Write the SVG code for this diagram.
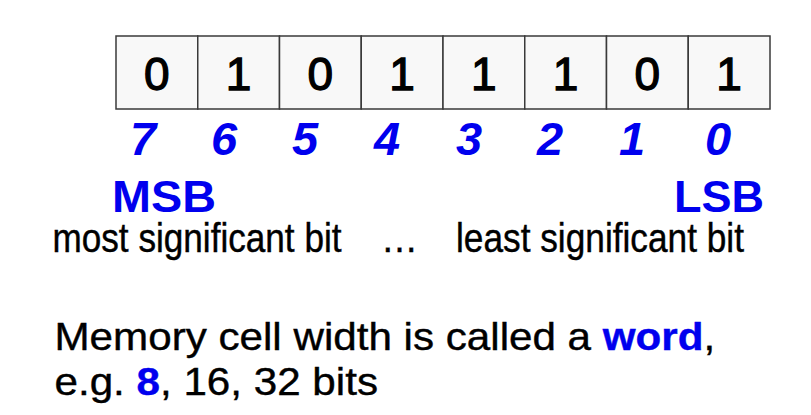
<svg xmlns="http://www.w3.org/2000/svg" width="811" height="415" viewBox="0 0 811 415">
<style>
  .cell { fill: #f8f8f8; stroke: #3a3a3a; stroke-width: 1.5; }
  .bit { font-family: "Liberation Sans", Arial, sans-serif; font-size: 46px; fill: #000; stroke: #000; stroke-width: 1.3px; text-anchor: middle; }
  .idx { font-family: "Liberation Sans", Arial, sans-serif; font-size: 47px; font-weight: bold; font-style: italic; fill: #0000ee; text-anchor: middle; }
  .big { font-family: "Liberation Sans", Arial, sans-serif; font-size: 45px; font-weight: bold; fill: #0000ee; }
  .small { font-family: "Liberation Sans", Arial, sans-serif; font-size: 37px; fill: #000; stroke: #000; stroke-width: 0.4px; }
  .cap { font-family: "Liberation Sans", Arial, sans-serif; font-size: 38px; fill: #000; stroke: #000; stroke-width: 0.4px; }
  .hl { font-weight: bold; fill: #0000ee; stroke: #0000ee; }
</style>
<rect width="811" height="415" fill="#ffffff"/>
<g id="register">
  <g id="cell7"><rect class="cell" x="116" y="36" width="81.75" height="73"/><text class="bit" x="156.9" y="89.5">0</text></g>
  <g id="cell6"><rect class="cell" x="197.75" y="36" width="81.75" height="73"/><text class="bit" x="238.6" y="89.5">1</text></g>
  <g id="cell5"><rect class="cell" x="279.5" y="36" width="81.75" height="73"/><text class="bit" x="320.4" y="89.5">0</text></g>
  <g id="cell4"><rect class="cell" x="361.25" y="36" width="81.75" height="73"/><text class="bit" x="402.1" y="89.5">1</text></g>
  <g id="cell3"><rect class="cell" x="443" y="36" width="81.75" height="73"/><text class="bit" x="483.9" y="89.5">1</text></g>
  <g id="cell2"><rect class="cell" x="524.75" y="36" width="81.75" height="73"/><text class="bit" x="565.6" y="89.5">1</text></g>
  <g id="cell1"><rect class="cell" x="606.5" y="36" width="81.75" height="73"/><text class="bit" x="647.4" y="89.5">0</text></g>
  <g id="cell0"><rect class="cell" x="688.25" y="36" width="81.75" height="73"/><text class="bit" x="729.1" y="89.5">1</text></g>
</g>
<g id="bit-indices">
  <text class="idx" x="143" y="155">7</text>
  <text class="idx" x="224" y="155">6</text>
  <text class="idx" x="305" y="155">5</text>
  <text class="idx" x="387" y="155">4</text>
  <text class="idx" x="469" y="155">3</text>
  <text class="idx" x="550" y="155">2</text>
  <text class="idx" x="632" y="155">1</text>
  <text class="idx" x="718" y="155">0</text>
</g>
<g id="msb">
  <text class="big" x="112" y="211.5" textLength="104" lengthAdjust="spacingAndGlyphs">MSB</text>
  <g transform="translate(52.5,252) scale(1,1.08)">
    <text class="small" x="0" y="0" textLength="289" lengthAdjust="spacingAndGlyphs">most significant bit</text>
  </g>
</g>
<g id="ellipsis" transform="translate(381,252) scale(1,1.08)">
  <text class="small" x="0" y="0">…</text>
</g>
<g id="lsb">
  <text class="big" x="764" y="211.5" text-anchor="end">LSB</text>
  <g transform="translate(456,252) scale(1,1.08)">
    <text class="small" x="0" y="0" textLength="288" lengthAdjust="spacingAndGlyphs">least significant bit</text>
  </g>
</g>
<g id="caption" transform="translate(54.5,0) scale(1.11,1)">
  <text class="cap" x="0" y="350">Memory cell width is called a <tspan class="hl">word</tspan>,</text>
  <text class="cap" x="0" y="395">e.g. <tspan class="hl">8</tspan>, 16, 32 bits</text>
</g>
</svg>
